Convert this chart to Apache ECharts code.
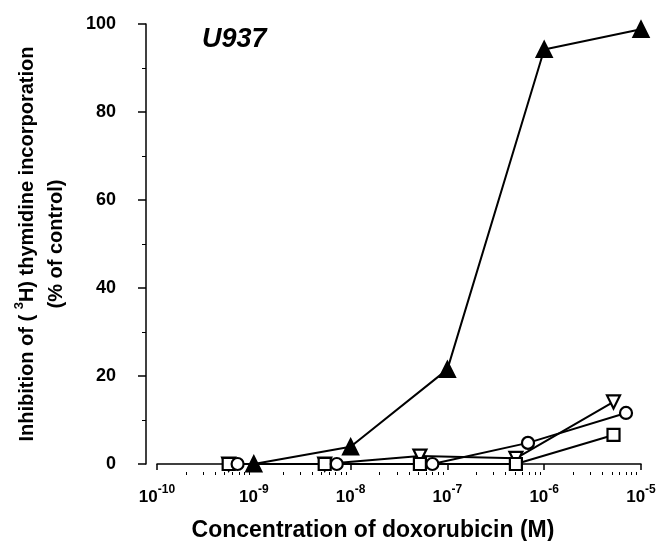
<!DOCTYPE html>
<html>
<head>
<meta charset="utf-8">
<script src="https://cdn.jsdelivr.net/npm/echarts@6/dist/echarts.min.js"></script>
<style>
  html, body { margin: 0; padding: 0; background: #fff; }
  #chart { width: 658px; height: 541px; }
</style>
</head>
<body>
<div id="chart"></div>
<script>
// concentrations (M) for each marker set
var concTriUp = [1e-9, 1e-8, 1e-7, 1e-6, 1e-5];
var concLeft = [5.5e-10, 5.4e-9, 5.2e-8, 5.1e-7, 5.2e-6];
var concCircle = [6.8e-10, 7.2e-9, 7.0e-8, 6.8e-7, 7.0e-6];

// inhibition (% of control)
var triUp = [0, 3.9, 21.5, 94.2, 98.8];
var triDown = [0, 0, 1.8, 1.3, 14.1];
var squares = [0, 0, 0, 0, 6.6];
var circles = [0, 0, 0, 4.8, 11.6];

// log decades shown on x, and the minor ticks (2..9 in each decade)
var decades = [-10, -9, -8, -7, -6, -5];
var minorTicks = [];
for (var d = 0; d < decades.length - 1; d++) {
  for (var m = 2; m < 10; m++) {
    minorTicks.push(decades[d] + Math.log10(m));
  }
}

function pairs(xs, ys) {
  var out = [];
  for (var i = 0; i < xs.length; i++) out.push([xs[i], ys[i]]);
  return out;
}

var FONT = '"Liberation Sans", Arial, sans-serif';

var chart = echarts.init(document.getElementById('chart'), null, { renderer: 'canvas' });

function lineSeries(name, data, symbol, size, filled, rotate) {
  return {
    name: name,
    type: 'line',
    xAxisIndex: 0,
    data: data,
    symbol: symbol,
    symbolSize: size,
    symbolRotate: rotate || 0,
    showSymbol: true,
    clip: false,
    animation: false,
    lineStyle: { color: '#000', width: 2 },
    itemStyle: { color: filled ? '#000' : '#fff', borderColor: '#000', borderWidth: 2.2 }
  };
}

chart.setOption({
  backgroundColor: '#fff',
  animation: false,
  title: {
    text: 'U937',
    left: 197,
    top: 21,
    textStyle: { fontFamily: FONT, fontSize: 27, fontWeight: 'bold', fontStyle: 'italic', color: '#000' }
  },
  grid: { left: 157, right: 17, top: 24, bottom: 77, outerBoundsMode: 'none', containLabel: false },
  xAxis: [
    {
      type: 'log',
      logBase: 10,
      min: 1e-10,
      max: 1e-5,
      offset: 8,
      splitLine: { show: false },
      axisLine: { lineStyle: { color: '#000', width: 1.5 } },
      axisTick: { inside: false, length: 6, lineStyle: { color: '#000', width: 1.5 } },
      axisLabel: {
        margin: 12,
        formatter: function (v) {
          return '{b|10}{s|' + Math.round(Math.log10(v)) + '}';
        },
        rich: {
          b: { fontFamily: FONT, fontSize: 17, fontWeight: 'bold', color: '#000', lineHeight: 27 },
          s: { fontFamily: FONT, fontSize: 12, fontWeight: 'bold', color: '#000', verticalAlign: 'top' }
        }
      },
      name: 'Concentration of doxorubicin (M)',
      nameLocation: 'middle',
      nameGap: 47,
      nameTextStyle: { fontFamily: FONT, fontSize: 23, fontWeight: 'bold', color: '#000', padding: [0, 52, 0, 0] }
    },
    {
      // helper axis carrying the log minor ticks
      type: 'value',
      min: -10,
      max: -5,
      offset: 8,
      position: 'bottom',
      axisLine: { show: false },
      axisLabel: { show: false },
      splitLine: { show: false },
      axisTick: { show: true, length: 3, customValues: minorTicks, lineStyle: { color: '#000', width: 1 } }
    }
  ],
  yAxis: {
    type: 'value',
    min: 0,
    max: 100,
    interval: 20,
    offset: 11,
    splitLine: { show: false },
    axisLine: { show: true, lineStyle: { color: '#000', width: 1.5 } },
    axisTick: { show: true, length: 8, lineStyle: { color: '#000', width: 1.5 } },
    minorTick: { show: true, splitNumber: 2, length: 4, lineStyle: { color: '#000', width: 1 } },
    axisLabel: { margin: 30, fontFamily: FONT, fontSize: 18, fontWeight: 'bold', color: '#000' },
    name: '{t|Inhibition of ( }{s|3}{t|H) thymidine incorporation}\n{t|(% of control)}',
    nameLocation: 'middle',
    nameGap: 75,
    nameRotate: 90,
    nameTextStyle: {
      rich: {
        t: { fontFamily: FONT, fontSize: 20, fontWeight: 'bold', color: '#000', lineHeight: 29 },
        s: { fontFamily: FONT, fontSize: 13, fontWeight: 'bold', color: '#000', verticalAlign: 'top' }
      }
    }
  },
  series: [
    lineSeries('up', pairs(concTriUp, triUp), 'triangle', 15, true),
    lineSeries('down', pairs(concLeft, triDown), 'triangle', 13, false, 180),
    lineSeries('square', pairs(concLeft, squares), 'rect', 12, false),
    lineSeries('circle', pairs(concCircle, circles), 'circle', 12, false)
  ]
});
</script>
</body>
</html>
